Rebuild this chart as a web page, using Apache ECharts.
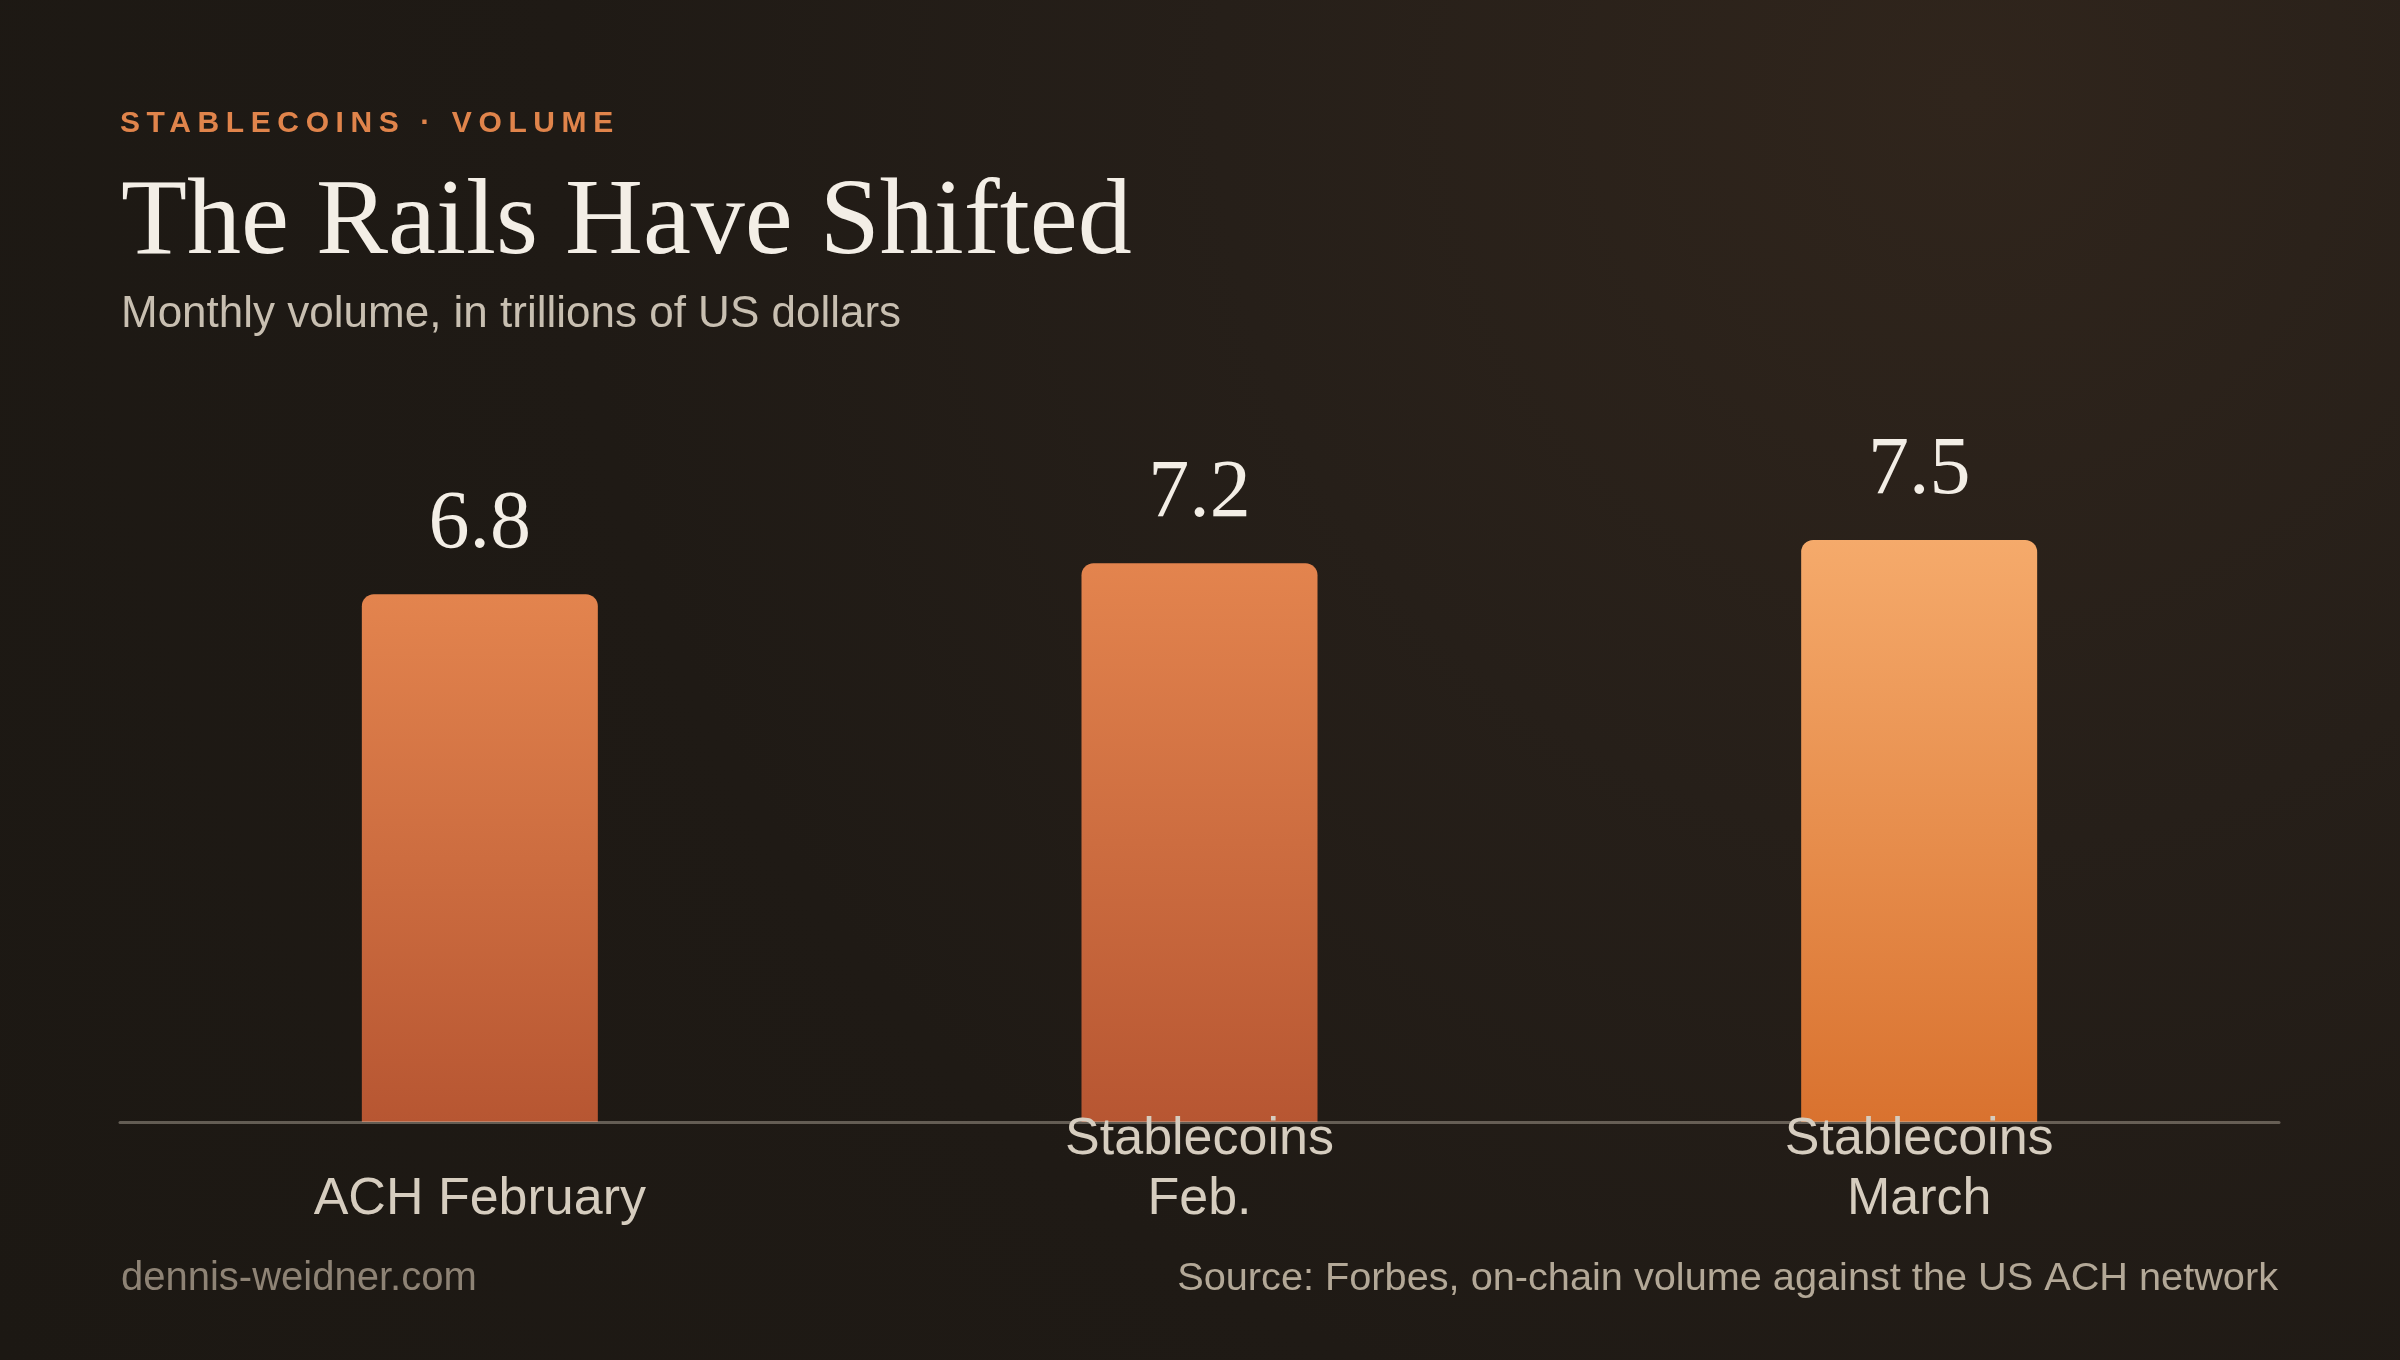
<!DOCTYPE html>
<html>
<head>
<meta charset="utf-8">
<title>The Rails Have Shifted</title>
<script src="https://cdn.jsdelivr.net/npm/echarts@6/dist/echarts.min.js"></script>
<style>
  html, body {
    margin: 0;
    padding: 0;
    width: 2400px;
    height: 1360px;
    overflow: hidden;
    background: radial-gradient(circle at 82% 7%, #30251c 0%, #261f19 32%, #1f1a15 60%, #1c1813 100%);
  }
  #main { position: absolute; left: 0; top: 0; width: 2400px; height: 1360px; }
  #kicker {
    position: absolute;
    left: 120px;
    top: 107px;
    font-family: "Liberation Sans", Arial, sans-serif;
    font-weight: bold;
    font-size: 30px;
    line-height: 30px;
    letter-spacing: 6.6px;
    color: #e0844b;
    z-index: 2;
  }
</style>
</head>
<body>
<div id="main"></div>
<div id="kicker">STABLECOINS · VOLUME</div>
<script>
  // chart data
  const categories = ["ACH February", "Stablecoins\nFeb.", "Stablecoins\nMarch"];
  const volumes = [6.8, 7.2, 7.5];

  const serif = "Georgia, 'Liberation Serif', 'DejaVu Serif', serif";
  const sans = "'Liberation Sans', Arial, Helvetica, sans-serif";

  // last bar gets the lighter gradient
  const darkFill = {
    type: "linear", x: 0, y: 0, x2: 0, y2: 1,
    colorStops: [
      { offset: 0, color: "#e3844e" },
      { offset: 1, color: "#b75632" }
    ]
  };
  const lightFill = {
    type: "linear", x: 0, y: 0, x2: 0, y2: 1,
    colorStops: [
      { offset: 0, color: "#f5aa6b" },
      { offset: 1, color: "#d9722f" }
    ]
  };

  const chartDom = document.getElementById("main");
  const myChart = echarts.init(chartDom, null, { renderer: "canvas" });

  const option = {
    backgroundColor: "transparent",
    animation: false,
    title: [
      {
        text: "The Rails Have Shifted",
        left: 116,
        top: 166,
        textStyle: { fontFamily: serif, fontSize: 108, fontWeight: "normal", color: "#f3eee6" }
      },
      {
        text: "Monthly volume, in trillions of US dollars",
        left: 116,
        top: 288,
        textStyle: { fontFamily: sans, fontSize: 44, fontWeight: "normal", color: "#c8bfb1" }
      },
      {
        text: "dennis-weidner.com",
        left: 116,
        top: 1254,
        textStyle: { fontFamily: sans, fontSize: 40, fontWeight: "normal", color: "#8e8375" }
      },
      {
        text: "Source: Forbes, on-chain volume against the US ACH network",
        right: 117,
        top: 1254,
        textStyle: { fontFamily: sans, fontSize: 39.7, fontWeight: "normal", color: "#b3a897" }
      }
    ],
    grid: { left: 120, right: 121, top: 346, bottom: 238 },
    xAxis: {
      type: "category",
      data: categories,
      z: 3,
      axisLine: { lineStyle: { color: "rgba(205,195,180,0.4)", width: 3 } },
      axisTick: { show: false },
      axisLabel: {
        interval: 0,
        margin: 108,
        verticalAlign: "bottom",
        fontFamily: sans,
        fontSize: 52,
        lineHeight: 60,
        color: "#d6cdbf"
      }
    },
    yAxis: {
      type: "value",
      min: 0,
      max: 10,
      show: false,
      splitLine: { show: false }
    },
    series: [
      {
        type: "bar",
        barWidth: 236,
        data: volumes.map((v, i) => ({
          value: v,
          itemStyle: { color: i === volumes.length - 1 ? lightFill : darkFill }
        })),
        itemStyle: { borderRadius: [12, 12, 0, 0] },
        label: {
          show: true,
          position: "top",
          distance: 28,
          fontFamily: serif,
          fontSize: 82,
          color: "#f3eee6",
          formatter: (p) => p.value.toFixed(1)
        }
      }
    ]
  };

  option && myChart.setOption(option);
</script>
</body>
</html>
